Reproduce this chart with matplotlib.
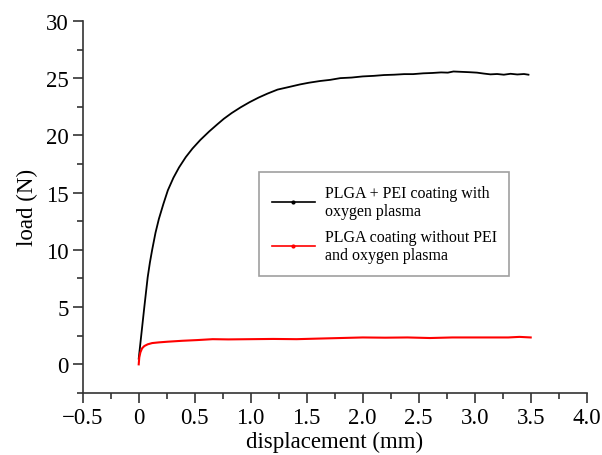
import matplotlib
matplotlib.use("Agg")
import matplotlib.pyplot as plt
from matplotlib.ticker import MultipleLocator, FixedLocator, FixedFormatter
from matplotlib.lines import Line2D

plt.rcParams['font.family'] = ['Liberation Serif', 'DejaVu Serif']

# Black curve: PLGA + PEI coating with oxygen plasma
disp_pei = [0.00, 0.01, 0.03, 0.05, 0.08, 0.10, 0.12, 0.15, 0.18, 0.22, 0.26, 0.31,
            0.36, 0.42, 0.48, 0.55, 0.63, 0.70, 0.76, 0.83, 0.91, 0.99, 1.07, 1.15,
            1.24, 1.33, 1.44, 1.52, 1.62, 1.71, 1.80, 1.90, 2.00, 2.10, 2.19, 2.28,
            2.37, 2.45, 2.54, 2.62, 2.70, 2.76, 2.81, 2.88, 2.95, 3.02, 3.08, 3.14,
            3.20, 3.26, 3.32, 3.38, 3.44, 3.48]
load_pei = [0.5, 1.4, 3.2, 5.0, 7.6, 8.9, 10.0, 11.5, 12.7, 14.0, 15.2, 16.3,
            17.2, 18.1, 18.85, 19.6, 20.35, 20.95, 21.45, 21.95, 22.45, 22.9, 23.3, 23.65,
            24.0, 24.2, 24.45, 24.6, 24.75, 24.85, 25.0, 25.05, 25.15, 25.2, 25.27, 25.3,
            25.35, 25.35, 25.42, 25.45, 25.5, 25.48, 25.58, 25.55, 25.52, 25.48, 25.4, 25.33,
            25.36, 25.3, 25.38, 25.32, 25.36, 25.3]

# Red curve: PLGA coating without PEI and oxygen plasma
disp_plga = [0.00, 0.005, 0.015, 0.03, 0.05, 0.08, 0.12, 0.18, 0.26, 0.39, 0.52, 0.66,
             0.80, 1.00, 1.20, 1.41, 1.60, 1.80, 2.00, 2.20, 2.40, 2.60, 2.80, 2.90,
             3.10, 3.30, 3.40, 3.50]
load_plga = [0.0, 0.6, 1.05, 1.4, 1.6, 1.75, 1.86, 1.92, 1.98, 2.06, 2.12, 2.2,
             2.18, 2.2, 2.22, 2.2, 2.25, 2.3, 2.35, 2.33, 2.35, 2.3, 2.35, 2.35,
             2.35, 2.35, 2.4, 2.35]

label_pei = "PLGA + PEI coating with\noxygen plasma"
label_plga = "PLGA coating without PEI\nand oxygen plasma"

x_ticks = [-0.5, 0, 0.5, 1.0, 1.5, 2.0, 2.5, 3.0, 3.5, 4.0]
x_tick_labels = ["\u22120.5", "0", "0.5", "1.0", "1.5", "2.0", "2.5", "3.0", "3.5", "4.0"]
y_ticks = [0, 5, 10, 15, 20, 25, 30]
y_tick_labels = ["0", "5", "10", "15", "20", "25", "30"]

fig = plt.figure(figsize=(6.02, 4.56), dpi=100)
ax = fig.add_axes([0.1374, 0.136, 0.8372, 0.816])

ax.plot(disp_pei, load_pei, color='black', lw=1.3)
ax.plot(disp_plga, load_plga, color='red', lw=1.5)

ax.set_xlim(-0.5, 4.0)
ax.set_ylim(-2.5, 30)
ax.xaxis.set_major_locator(FixedLocator(x_ticks))
ax.xaxis.set_major_formatter(FixedFormatter(x_tick_labels))
ax.xaxis.set_minor_locator(MultipleLocator(0.25))
ax.yaxis.set_major_locator(FixedLocator(y_ticks))
ax.yaxis.set_major_formatter(FixedFormatter(y_tick_labels))
ax.yaxis.set_minor_locator(MultipleLocator(2.5))

for s in ['top', 'right']:
    ax.spines[s].set_visible(False)
for s in ['left', 'bottom']:
    ax.spines[s].set_linewidth(1.2)
    ax.spines[s].set_color('#333333')

ax.tick_params(which='major', direction='out', length=7, width=1.2, color='#333333',
               labelsize=16.5, pad=3)
ax.tick_params(which='minor', direction='out', length=4, width=1.2, color='#333333')

ax.set_xlabel("displacement (mm)", fontsize=16.5, labelpad=2)
ax.set_ylabel("load (N)", fontsize=16.5, labelpad=6)

h1 = Line2D([], [], color='black', lw=1.2, marker='.', markersize=4)
h2 = Line2D([], [], color='red', lw=1.2, marker='.', markersize=4)
leg = ax.legend([h1, h2], [label_pei, label_plga], loc='upper left',
                bbox_to_anchor=(0.35, 0.594), borderaxespad=0, fontsize=11.5,
                frameon=True, fancybox=False, handlelength=2.7, handletextpad=0.6,
                labelspacing=0.6, borderpad=0.8, numpoints=1)
leg.get_frame().set_edgecolor('#888888')
leg.get_frame().set_linewidth(1.2)

fig.savefig("out.png", dpi=100)
